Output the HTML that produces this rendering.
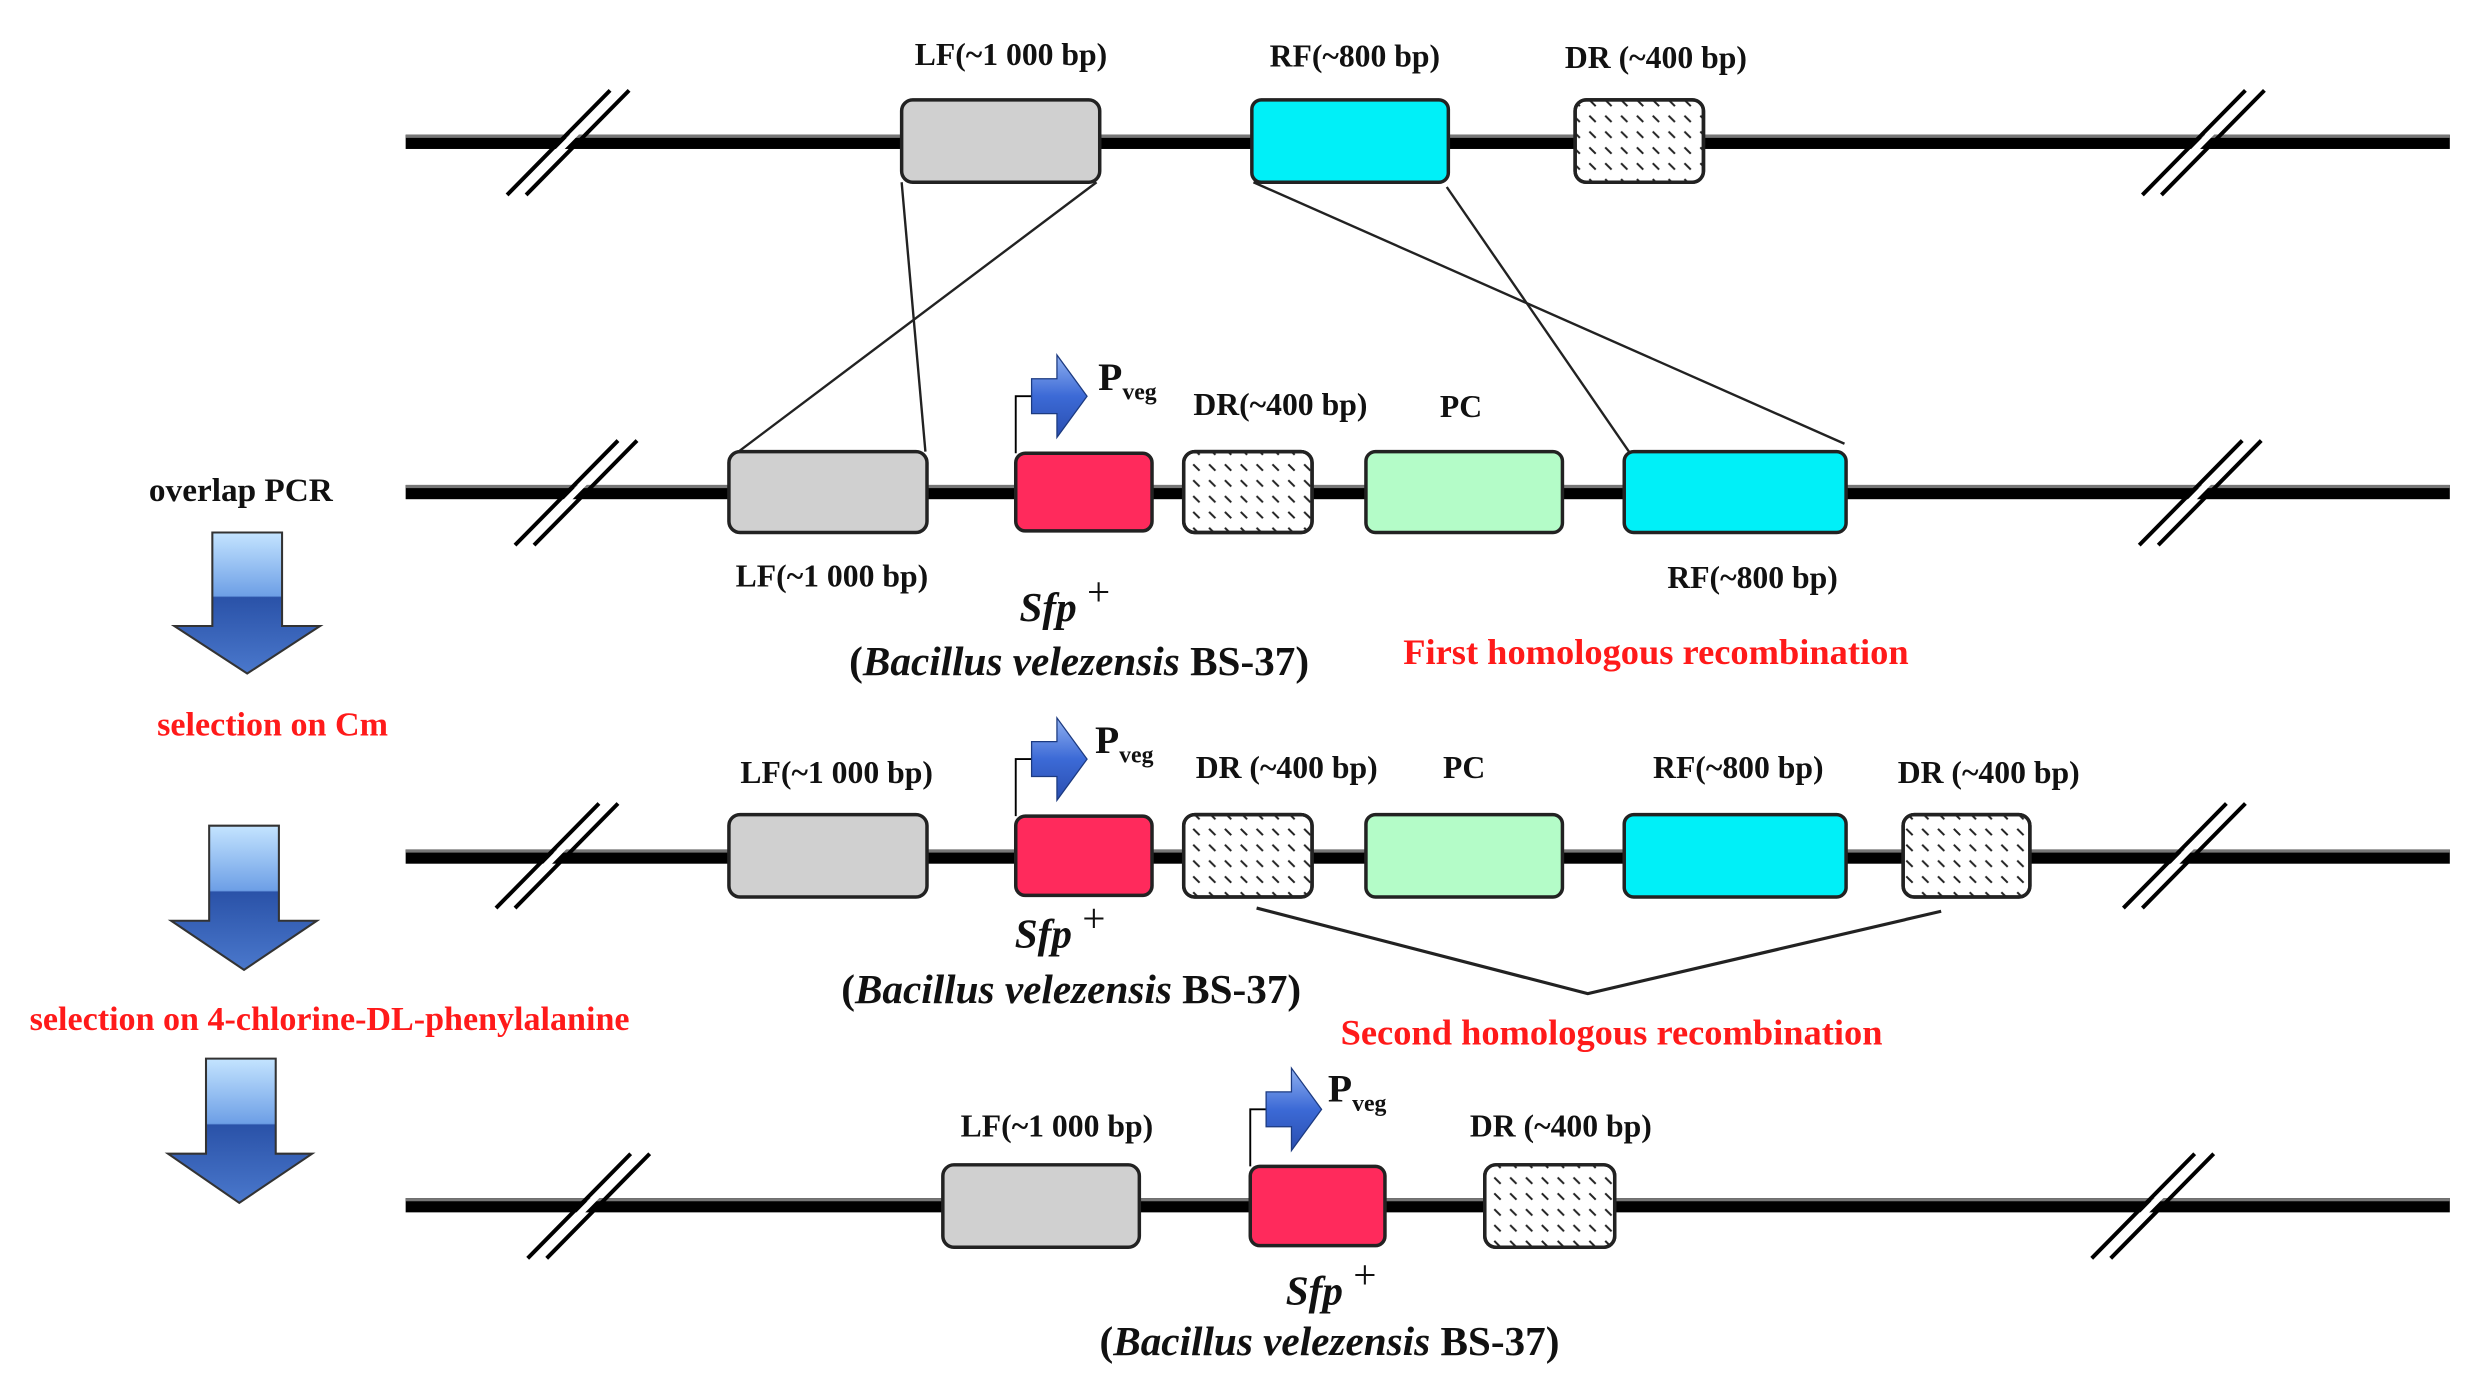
<!DOCTYPE html>
<html><head><meta charset="utf-8"><style>html,body{margin:0;padding:0;background:#fff;}svg{display:block;}
text{font-family:"Liberation Serif",serif;font-weight:bold;}</style></head>
<body>
<svg width="2472" height="1374" viewBox="0 0 1560 867" preserveAspectRatio="none" xmlns="http://www.w3.org/2000/svg">
<defs>
<pattern id="h" width="10" height="10" patternUnits="userSpaceOnUse">
<line x1="3" y1="3" x2="7" y2="7" stroke="#222" stroke-width="1.3"/>
</pattern>
<linearGradient id="bl" x1="0" y1="0" x2="0" y2="1">
<stop offset="0" stop-color="#c4e4ff"/><stop offset="0.45" stop-color="#6d9fe6"/>
<stop offset="0.46" stop-color="#2a52a8"/><stop offset="1" stop-color="#4a78cc"/>
</linearGradient>
<linearGradient id="pb" x1="0" y1="0" x2="0" y2="1">
<stop offset="0" stop-color="#8fb0f0"/><stop offset="0.5" stop-color="#3c6ad6"/><stop offset="1" stop-color="#2a4eb0"/>
</linearGradient>
<g id="sl">
<line x1="0" y1="33" x2="65" y2="-33" stroke="#000" stroke-width="2.5"/>
<line x1="-7" y1="33" x2="58" y2="-33" stroke="#fff" stroke-width="4"/>
<line x1="-12" y1="33" x2="53" y2="-33" stroke="#000" stroke-width="2.5"/>
</g>
<g id="prom">
<polyline points="0,0 0,-36 10,-36" fill="none" stroke="#000" stroke-width="1.2"/>
<path d="M10,-47 L26,-47 L26,-62 L45,-36 L26,-10 L26,-25 L10,-25 Z" fill="url(#pb)" stroke="#1c3a80" stroke-width="0.8"/>
</g>
</defs>

<g>
<rect x="256" y="85" width="1290" height="9" fill="#000"/><rect x="256" y="85" width="1290" height="2" fill="#777"/>
<rect x="256" y="306" width="1290" height="9" fill="#000"/><rect x="256" y="306" width="1290" height="2" fill="#777"/>
<rect x="256" y="536" width="1290" height="9" fill="#000"/><rect x="256" y="536" width="1290" height="2" fill="#777"/>
<rect x="256" y="756" width="1290" height="9" fill="#000"/><rect x="256" y="756" width="1290" height="2" fill="#777"/>
</g>
<use href="#sl" x="332" y="90"/><use href="#sl" x="1364" y="90"/>
<use href="#sl" x="337" y="311"/><use href="#sl" x="1362" y="311"/>
<use href="#sl" x="325" y="540"/><use href="#sl" x="1352" y="540"/>
<use href="#sl" x="345" y="761"/><use href="#sl" x="1332" y="761"/>

<g stroke="#222" stroke-width="2.2">
<rect x="569" y="63" width="125" height="52" rx="7" fill="#d0d0d0"/>
<rect x="790" y="63" width="124" height="52" rx="6" fill="#00f0f8"/>
<rect x="994" y="63" width="81" height="52" rx="7" fill="#fff"/>
<rect x="994" y="63" width="81" height="52" rx="7" fill="url(#h)"/>
<rect x="460" y="285" width="125" height="51" rx="7" fill="#d0d0d0"/>
<rect x="641" y="286" width="86" height="49" rx="6" fill="#ff2a5c"/>
<rect x="747" y="285" width="81" height="51" rx="7" fill="#fff"/>
<rect x="747" y="285" width="81" height="51" rx="7" fill="url(#h)"/>
<rect x="862" y="285" width="124" height="51" rx="6" fill="#b4fcc8"/>
<rect x="1025" y="285" width="140" height="51" rx="6" fill="#00f0f8"/>
<rect x="460" y="514" width="125" height="52" rx="7" fill="#d0d0d0"/>
<rect x="641" y="515" width="86" height="50" rx="6" fill="#ff2a5c"/>
<rect x="747" y="514" width="81" height="52" rx="7" fill="#fff"/>
<rect x="747" y="514" width="81" height="52" rx="7" fill="url(#h)"/>
<rect x="862" y="514" width="124" height="52" rx="6" fill="#b4fcc8"/>
<rect x="1025" y="514" width="140" height="52" rx="6" fill="#00f0f8"/>
<rect x="1201" y="514" width="80" height="52" rx="7" fill="#fff"/>
<rect x="1201" y="514" width="80" height="52" rx="7" fill="url(#h)"/>
<rect x="595" y="735" width="124" height="52" rx="7" fill="#d0d0d0"/>
<rect x="789" y="736" width="85" height="50" rx="6" fill="#ff2a5c"/>
<rect x="937" y="735" width="82" height="52" rx="7" fill="#fff"/>
<rect x="937" y="735" width="82" height="52" rx="7" fill="url(#h)"/>
</g>

<g stroke="#222" stroke-width="1.5" fill="none">
<line x1="569" y1="115" x2="584" y2="285"/>
<line x1="692" y1="115" x2="466" y2="285"/>
<line x1="791" y1="115" x2="1164" y2="280"/>
<line x1="913" y1="118" x2="1028" y2="285"/>
<polyline points="793,573 1002,627 1225,575" stroke-width="2"/>
</g>

<use href="#prom" x="641" y="286"/>
<use href="#prom" x="641" y="515"/>
<use href="#prom" x="789" y="736"/>

<g stroke="#333" stroke-width="1.3" fill="url(#bl)">
<path d="M134,336 L178,336 L178,395 L202,395 L156,425 L110,395 L134,395 Z"/>
<path d="M132,521 L176,521 L176,581 L200,581 L154,612 L108,581 L132,581 Z"/>
<path d="M130,668 L174,668 L174,728 L197,728 L151,759 L106,728 L130,728 Z"/>
</g>

<g font-size="20" text-anchor="middle" fill="#111">
<text x="638" y="41">LF(~1 000 bp)</text>
<text x="855" y="42">RF(~800 bp)</text>
<text x="1045" y="43">DR (~400 bp)</text>
<text x="808" y="262">DR(~400 bp)</text>
<text x="922" y="263">PC</text>
<text x="525" y="370">LF(~1 000 bp)</text>
<text x="1106" y="371">RF(~800 bp)</text>
<text x="152" y="316" font-size="21">overlap PCR</text>
<text x="528" y="494">LF(~1 000 bp)</text>
<text x="812" y="491">DR (~400 bp)</text>
<text x="924" y="491">PC</text>
<text x="1097" y="491">RF(~800 bp)</text>
<text x="1255" y="494">DR (~400 bp)</text>
<text x="667" y="717">LF(~1 000 bp)</text>
<text x="985" y="717">DR (~400 bp)</text>
</g>
<g fill="#ff1a1a" font-size="23" text-anchor="middle">
<text x="1045" y="419">First homologous recombination</text>
<text x="1017" y="659">Second homologous recombination</text>
<text x="172" y="464" font-size="21.5">selection on Cm</text>
<text x="208" y="650" font-size="21.5">selection on 4-chlorine-DL-phenylalanine</text>
</g>
<g fill="#111" font-size="25">
<text x="693" y="246">P<tspan font-size="15" dy="6">veg</tspan></text>
<text x="691" y="475">P<tspan font-size="15" dy="6">veg</tspan></text>
<text x="838" y="695">P<tspan font-size="15" dy="6">veg</tspan></text>
</g>
<g fill="#111" font-size="26" text-anchor="middle">
<text x="672" y="392"><tspan font-style="italic">Sfp</tspan><tspan font-weight="normal" dy="-10"> +</tspan></text>
<text x="681" y="426">(<tspan font-style="italic">Bacillus velezensis</tspan> BS-37)</text>
<text x="669" y="598"><tspan font-style="italic">Sfp</tspan><tspan font-weight="normal" dy="-10"> +</tspan></text>
<text x="676" y="633">(<tspan font-style="italic">Bacillus velezensis</tspan> BS-37)</text>
<text x="840" y="823"><tspan font-style="italic">Sfp</tspan><tspan font-weight="normal" dy="-10"> +</tspan></text>
<text x="839" y="855">(<tspan font-style="italic">Bacillus velezensis</tspan> BS-37)</text>
</g>
</svg>
</body></html>
